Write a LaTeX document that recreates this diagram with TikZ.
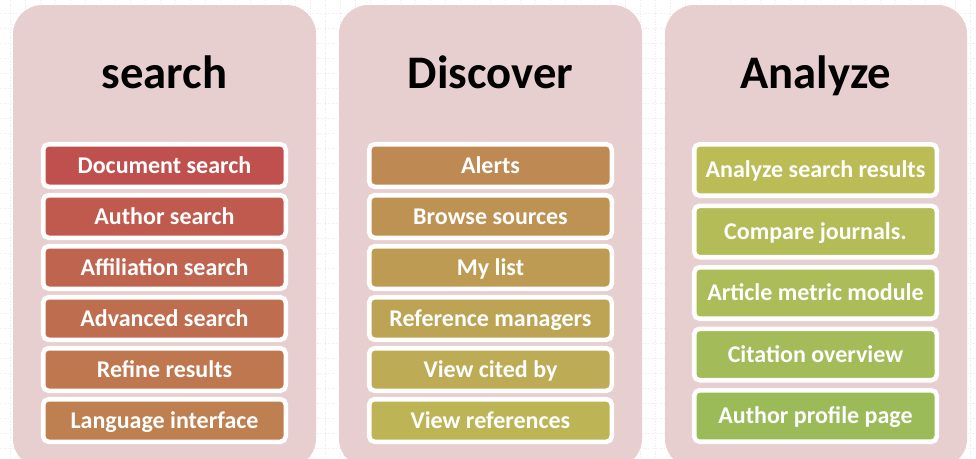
\documentclass[tikz,border=0pt]{standalone}
\usepackage{fontspec}
\setmainfont{Carlito}
\definecolor{panelpink}{RGB}{231,207,208}
\definecolor{gridc}{RGB}{242,236,242}
\tikzset{
  panel/.style={fill=panelpink, rounded corners=22pt},
  title/.style={anchor=base, font=\fontsize{35}{42}\selectfont\bfseries, text=black, inner sep=0pt},
  itembox/.style={draw=white, line width=3.4pt, rounded corners=4pt, text=white,
    font=\fontsize{18}{21}\selectfont\bfseries, text height=11.6pt, text depth=0pt,
    minimum width=181.9pt, inner sep=0pt},
  rowa/.style={itembox, minimum height=31.9pt},
  rowb/.style={itembox, minimum height=38.6pt}
}
% colour k of 17, hue interpolation from C0504D to 9BBB59
\newcommand{\mkcol}[1]{%
  \pgfmathsetmacro\hh{1.57+#1*4.877}%
  \pgfmathsetmacro\ss{0.599-#1*0.0047}%
  \pgfmathsetmacro\bmax{0.753-#1*0.00125}%
  \pgfmathsetmacro\bmin{\bmax*(1-\ss)}%
  \pgfmathsetmacro\cR{\bmax-(\bmax-\bmin)*max(0,\hh-60)/60}%
  \pgfmathsetmacro\cG{\bmin+(\bmax-\bmin)*min(\hh,60)/60}%
  \definecolor{cur}{rgb}{\cR,\cG,\bmin}%
}
\begin{document}
\begin{tikzpicture}[x=0.75pt,y=-0.75pt]
\useasboundingbox (0,0) rectangle (976,458);
\fill[white] (0,0) rectangle (976,458);
\foreach \gx in {10,25,...,970} {\draw[gridc, line width=0.6pt, dash pattern=on 1pt off 1pt] (\gx,0) -- (\gx,458);}
\foreach \gy in {13,28,...,458} {\draw[gridc, line width=0.6pt, dash pattern=on 1pt off 1pt] (0,\gy) -- (976,\gy);}
% panels
\fill[panel] (13,5) rectangle (316,468);
\fill[panel] (339,5) rectangle (642,468);
\fill[panel] (665,5) rectangle (967,468);
% titles
\node[title] (t1) at (164.5,88) {search};
\node[title] (t2) at (490.5,88) {Discover};
\node[title] (t3) at (816,88) {Analyze};
% search items
\foreach \t [count=\i from 0] in {Document search, Author search, Affiliation search, Advanced search, Refine results, Language interface} {
  \mkcol{\i}
  \node[rowa, fill=cur] (s\i) at (164.5,{165.5+51*\i}) {\t};
}
% discover items
\foreach \t [count=\i from 0] in {Alerts, Browse sources, My list, Reference managers, View cited by, View references} {
  \mkcol{(\i+6)}
  \node[rowa, fill=cur] (d\i) at (490.5,{165.5+51*\i}) {\t};
}
% analyze items
\foreach \t [count=\i from 0] in {Analyze search results, Compare journals., Article metric module, Citation overview, Author profile page} {
  \mkcol{(\i+12)}
  \node[rowb, fill=cur] (a\i) at (815.5,{170+61.5*\i}) {\t};
}
\end{tikzpicture}
\end{document}
